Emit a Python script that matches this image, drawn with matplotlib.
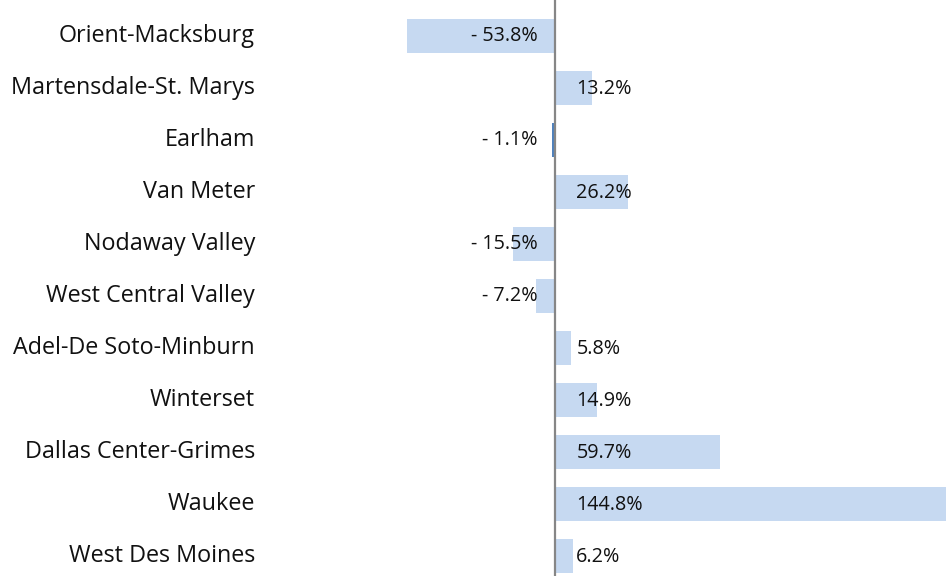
import matplotlib.pyplot as plt

districts = ["Orient-Macksburg", "Martensdale-St. Marys", "Earlham", "Van Meter",
             "Nodaway Valley", "West Central Valley", "Adel-De Soto-Minburn",
             "Winterset", "Dallas Center-Grimes", "Waukee", "West Des Moines"]
change = [-53.8, 13.2, -1.1, 26.2, -15.5, -7.2, 5.8, 14.9, 59.7, 144.8, 6.2]
highlight = "Earlham"

plt.rcParams['font.family'] = ['Open Sans', 'DejaVu Sans']

W, H = 946, 576
fig = plt.figure(figsize=(W / 100, H / 100), dpi=100)

# zero line sits at x=556px, 2.76 px per percent point
left_px = 407
scale = 2.76
xmin = -53.8
xmax = xmin + (W - left_px) / scale
ax = fig.add_axes([left_px / W, 0, (W - left_px) / W, 1])

ys = list(range(len(districts)))
colors = ["#4f81bd" if d == highlight else "#c6d9f1" for d in districts]
ax.barh(ys, change, height=0.67, color=colors)
ax.axvline(0, color="#868686", lw=1.6)

ax.set_xlim(xmin, xmax)
ax.set_ylim(10 + 20 / 52, -36 / 52)
ax.axis("off")

for y, v, d in zip(ys, change, districts):
    if v >= 0:
        ax.annotate(f"{v:.1f}%", xy=(0, y), xytext=(15, -1), textcoords="offset points",
                    ha="left", va="center", fontsize=14.2, color="#111111")
    else:
        ax.annotate(f"- {abs(v):.1f}%", xy=(0, y), xytext=(-13, 0), textcoords="offset points",
                    ha="right", va="center", fontsize=14.2, color="#111111")
    ax.annotate(d, xy=(0, y), xycoords=("figure fraction", "data"),
                xytext=(255 / W, 0), textcoords=("figure fraction", "offset points"),
                ha="right", va="center", fontsize=16.8, color="#111111")

fig.savefig("out.png", dpi=100)
